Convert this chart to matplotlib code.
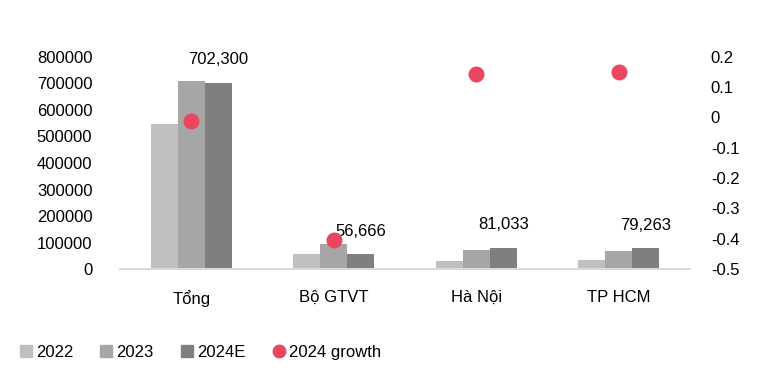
import matplotlib
matplotlib.use("Agg")
import matplotlib.pyplot as plt
from matplotlib.lines import Line2D
import numpy as np

plt.rcParams['font.family'] = ['Liberation Sans', 'DejaVu Sans']

# Dữ liệu
categories = ['Tổng', 'Bộ GTVT', 'Hà Nội', 'TP HCM']
v2022 = [547000, 57000, 30000, 34000]
v2023 = [709000, 95000, 71000, 69000]
v2024e = [702300, 56666, 81033, 79263]
growth = [-0.01, -0.405, 0.144, 0.151]
label_texts = ['702,300', '56,666', '81,033', '79,263']

c2022 = '#BFBFBF'
c2023 = '#A6A6A6'
c2024 = '#7F7F7F'
cdot = '#E8475F'

fig = plt.figure(figsize=(7.65, 3.79), dpi=100)
ax = fig.add_axes([0.157, 0.29, 0.745, 0.56])
ax2 = ax.twinx()

x = np.arange(len(categories))
w = 0.19
ax.bar(x - w, v2022, w, color=c2022, label='2022')
ax.bar(x, v2023, w, color=c2023, label='2023')
ax.bar(x + w, v2024e, w, color=c2024, label='2024E')

# nhãn giá trị trên cột 2024E
for xi, v, t in zip(x, v2024e, label_texts):
    ax.annotate(t, (xi + w, v), xytext=(0, 11), textcoords='offset points',
                ha='center', va='bottom', fontsize=12)

ax2.scatter(x, growth, s=110, color=cdot, zorder=5, label='2024 growth')

ax.set_xlim(-0.5, 3.5)
ax.set_ylim(0, 800000)
ax.set_yticks(np.arange(0, 800001, 100000))
ax.set_yticklabels([str(v) for v in range(0, 800001, 100000)])
ax2.set_ylim(-0.5, 0.2)
ax2.set_yticks([0.2, 0.1, 0, -0.1, -0.2, -0.3, -0.4, -0.5])
ax2.set_yticklabels(['0.2', '0.1', '0', '-0.1', '-0.2', '-0.3', '-0.4', '-0.5'])
ax.set_xticks(x)
ax.set_xticklabels(categories)

for a in (ax, ax2):
    for s in ['top', 'left', 'right', 'bottom']:
        a.spines[s].set_visible(False)
    a.tick_params(length=0, labelsize=12)
ax.spines['bottom'].set_visible(True)
ax.spines['bottom'].set_color('#D9D9D9')
ax.spines['bottom'].set_linewidth(1.5)
ax.tick_params(axis='y', pad=20)
ax.tick_params(axis='x', pad=15)
ax2.tick_params(axis='y', pad=15)

handles = [
    Line2D([], [], marker='s', linestyle='none', color=c2022, markersize=8),
    Line2D([], [], marker='s', linestyle='none', color=c2023, markersize=8),
    Line2D([], [], marker='s', linestyle='none', color=c2024, markersize=8),
    Line2D([], [], marker='o', linestyle='none', color=cdot, markersize=9),
]
fig.legend(handles, ['2022', '2023', '2024E', '2024 growth'], loc='center left',
           bbox_to_anchor=(0.003, 0.07), ncol=4, frameon=False, fontsize=12,
           handletextpad=0.1, columnspacing=1.5, handlelength=1.0)

fig.savefig('out.png', dpi=100)
